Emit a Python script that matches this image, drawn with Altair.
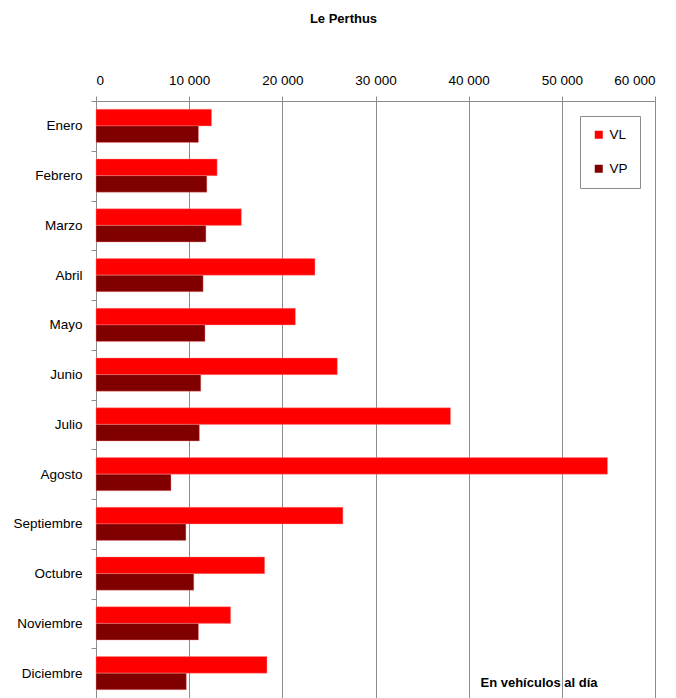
import altair as alt
import pandas as pd

title_text = "Le Perthus"
note_text = "En vehículos al día"
months = ["Enero", "Febrero", "Marzo", "Abril", "Mayo", "Junio", "Julio",
          "Agosto", "Septiembre", "Octubre", "Noviembre", "Diciembre"]
series = ["VL", "VP"]
colors = ["#FF0000", "#800000"]
vl = [12400, 13000, 15600, 23500, 21400, 25900, 38050, 54900, 26500, 18100, 14450, 18350]
vp = [11000, 11900, 11800, 11500, 11700, 11250, 11100, 8050, 9650, 10500, 11000, 9700]
x_ticks = [0, 10000, 20000, 30000, 40000, 50000, 60000]

rows = []
for m, a, b in zip(months, vl, vp):
    rows.append({"mes": m, "serie": "VL", "valor": a})
    rows.append({"mes": m, "serie": "VP", "valor": b})
df = pd.DataFrame(rows)

FONT = "Liberation Sans"
GRID = "#8c8c8c"

bars = alt.Chart(df).mark_bar(stroke="#ff8a8a", strokeWidth=0.6, strokeOpacity=0.7).encode(
    y=alt.Y("mes:N", sort=months, title=None,
            scale=alt.Scale(paddingInner=0, paddingOuter=0),
            axis=alt.Axis(tickBand="extent", ticks=True, tickSize=5, tickColor=GRID,
                          domainColor=GRID, labelFontSize=13.5, labelFont=FONT,
                          labelColor="black", labelPadding=9, grid=False)),
    yOffset=alt.YOffset("serie:N", sort=series,
                        scale=alt.Scale(paddingInner=0, paddingOuter=0.5)),
    x=alt.X("valor:Q", title=None,
            scale=alt.Scale(domain=[0, 60000], nice=False),
            axis=alt.Axis(orient="top", values=x_ticks, grid=True, gridColor=GRID,
                          gridWidth=1, tickSize=5, tickColor=GRID, domainColor=GRID,
                          labelFontSize=13.5, labelFont=FONT, labelColor="black",
                          labelPadding=9,
                          labelExpr="replace(format(datum.value, ','), ',', ' ')")),
    color=alt.Color("serie:N", scale=alt.Scale(domain=series, range=colors),
                    legend=alt.Legend(title=None, orient="none", legendX=484, legendY=15,
                                      direction="vertical", symbolType="square",
                                      symbolSize=64, symbolStrokeWidth=0,
                                      labelFontSize=13.5, labelFont=FONT,
                                      labelColor="black", rowPadding=19, padding=12,
                                      labelOffset=4,
                                      strokeColor=GRID, fillColor="white")),
)

note = alt.Chart(pd.DataFrame({"t": [note_text]})).mark_text(
    font=FONT, fontSize=13, fontWeight="bold", color="black", align="center", baseline="middle"
).encode(text="t:N", x=alt.value(443), y=alt.value(582))

chart = alt.layer(bars, note).properties(
    width=559, height=597,
    title=alt.TitleParams(title_text, font=FONT, fontSize=13, fontWeight="bold",
                          anchor="middle", frame="group", dx=-32, offset=47, color="black"),
    padding={"left": 96, "top": 101, "right": 21, "bottom": 0},
    autosize=alt.AutoSizeParams(type="none"),
).configure_view(stroke=None)

chart.save("out.html", embed_options={"renderer": "svg", "actions": False})
